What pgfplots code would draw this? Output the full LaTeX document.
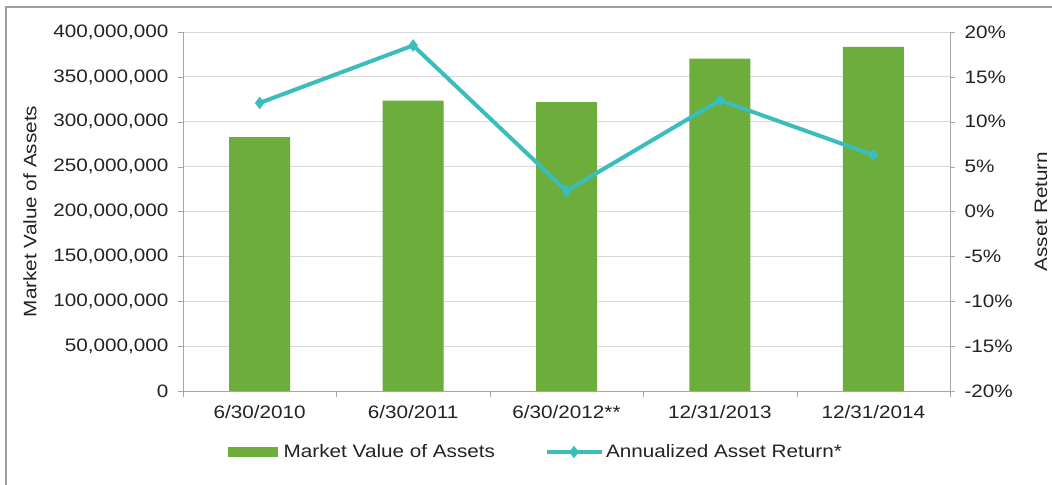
\documentclass[border=0pt]{standalone}
\usepackage{pgfplots}
\pgfplotsset{compat=1.18}
\usepackage{fontspec}
\setmainfont{Liberation Sans}[FakeStretch=1.15]
\definecolor{barg}{RGB}{108,173,60}
\definecolor{linec}{RGB}{57,189,189}
\definecolor{gridc}{RGB}{217,217,217}
\definecolor{axc}{RGB}{166,166,166}
\definecolor{txt}{RGB}{35,35,35}
\begin{document}
\begin{tikzpicture}[font=\fontsize{18bp}{21bp}\selectfont]
\path[use as bounding box] (0,0) rectangle (1052bp,485bp);
\fill[white] (0,0) rectangle (1052bp,485bp);
\draw[gray!75, line width=1.6bp] (6bp,0) -- (6bp,478bp) -- (1052bp,478bp);
\begin{axis}[
  at={(183bp,94bp)}, anchor=south west,
  scale only axis, width=767bp, height=359bp,
  xmin=-0.5, xmax=4.5, ymin=0, ymax=400000000,
  xtick={0,1,2,3,4},
  xticklabels={6/30/2010,6/30/2011,6/30/2012**,12/31/2013,12/31/2014},
  minor xtick={-0.5,0.5,1.5,2.5,3.5,4.5},
  major x tick style={draw=none},
  minor x tick style={axc},
  ytick={0,50000000,100000000,150000000,200000000,250000000,300000000,350000000,400000000},
  yticklabels={0,{50,000,000},{100,000,000},{150,000,000},{200,000,000},{250,000,000},{300,000,000},{350,000,000},{400,000,000}},
  scaled y ticks=false,
  axis x line*=bottom, axis y line*=left,
  axis line style={axc, line width=0.8bp},
  y tick style={axc},
  tick align=outside, major tick length=5bp, minor tick length=6bp,
  ymajorgrids, grid style={gridc, line width=0.8bp},
  ticklabel style={font=\fontsize{18bp}{21bp}\selectfont, text=txt},
  xticklabel style={yshift=-6bp},
  yticklabel style={xshift=-6bp},
  every axis y label/.style={at={(axis description cs:-0.1995,0.5)}, rotate=90, anchor=center},
  ylabel={Market Value of Assets},
  label style={font=\fontsize{18bp}{21bp}\selectfont, text=txt},
  legend style={at={(axis description cs:0.46,-0.17)}, anchor=center, draw=none, fill=none,
    legend columns=2, font=\fontsize{18bp}{21bp}\selectfont, text=txt,
    /tikz/every even column/.append style={column sep=48bp}},
  legend cell align=left,
]
\addplot[ybar, bar width=61bp, fill=barg, draw=none,
  legend image code/.code={\fill[barg] (0bp,-5bp) rectangle (50bp,5bp); \path (54bp,0bp);}]
  coordinates {(0,283000000) (1,323500000) (2,322000000) (3,370300000) (4,383300000)};
\addlegendentry{Market Value of Assets}
\addlegendimage{linec, line width=4bp, mark=diamond*, mark size=3bp,
  legend image code/.code={\draw[mark repeat=2,mark phase=2] plot coordinates {(0bp,0bp)(27bp,0bp)(55bp,0bp)};}}
\addlegendentry{Annualized Asset Return*}
\end{axis}
\begin{axis}[
  at={(183bp,94bp)}, anchor=south west,
  scale only axis, width=767bp, height=359bp,
  xmin=-0.5, xmax=4.5, ymin=-20, ymax=20,
  axis x line=none, axis y line*=right,
  axis line style={axc, line width=0.8bp},
  y tick style={axc},
  tick align=outside, major tick length=5bp,
  ytick={-20,-15,-10,-5,0,5,10,15,20},
  yticklabels={-20\%,-15\%,-10\%,-5\%,0\%,5\%,10\%,15\%,20\%},
  ticklabel style={font=\fontsize{18bp}{21bp}\selectfont, text=txt},
  yticklabel style={xshift=6bp},
  every axis y label/.style={at={(axis description cs:1.1186,0.5)}, rotate=90, anchor=center},
  ylabel={Asset Return},
  label style={font=\fontsize{18bp}{21bp}\selectfont, text=txt},
]
\addplot[linec, line width=4bp, mark=diamond*, mark size=3bp]
  coordinates {(0,12.1) (1,18.5) (2,2.3) (3,12.4) (4,6.3)};
\end{axis}
\end{tikzpicture}
\end{document}
